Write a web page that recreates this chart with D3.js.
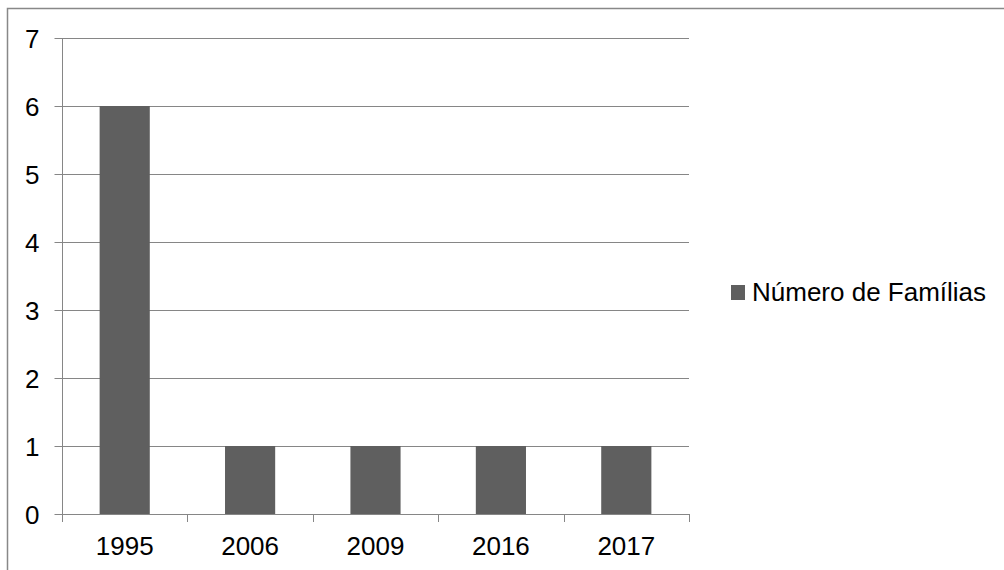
<!DOCTYPE html>
<html><head><meta charset="utf-8">
<script src="https://cdn.jsdelivr.net/npm/d3@7"></script>
<style>body{margin:0;background:#fff}svg{display:block}text{font-family:"Liberation Sans",Arial,sans-serif}</style>
</head><body><svg id="c" width="1004" height="570"></svg>
<script>
const categories = ["1995","2006","2009","2016","2017"];
const values = [6,1,1,1,1];
const yTicks = [0,1,2,3,4,5,6,7];
const seriesName = "Número de Famílias";

(function(){
const svg = d3.select("#c");
const pL = 62, pR = 689, pT = 38, pB = 514;
const fs = 26;
const axisColor = "#868686";
const ff = "'Liberation Sans',Arial,sans-serif";

// outer chart border
svg.append("rect").attr("x",7.5).attr("y",8.5).attr("width",1100).attr("height",700)
  .attr("fill","none").attr("stroke","#888").attr("stroke-width",1.5);

const x = d3.scaleBand().domain(categories).range([pL,pR]).padding(0);
const y = d3.scaleLinear().domain([0,7]).range([pB,pT]);

// gridlines
svg.append("g").selectAll("line").data(yTicks.filter(d=>d>0)).join("line")
  .attr("x1",pL).attr("x2",pR).attr("y1",d=>Math.round(y(d))+0.5).attr("y2",d=>Math.round(y(d))+0.5)
  .attr("stroke",axisColor).attr("stroke-width",1);

// bars
const bw = x.bandwidth()*0.4;
svg.append("g").selectAll("rect").data(values).join("rect")
  .attr("x",(d,i)=>x(categories[i])+x.bandwidth()/2-bw/2)
  .attr("width",bw)
  .attr("y",d=>y(d)).attr("height",d=>y(0)-y(d))
  .attr("fill","#5f5f5f");

// y axis
const ya = svg.append("g").attr("transform",`translate(${pL+0.5},0)`)
  .call(d3.axisLeft(y).tickValues(yTicks).tickSize(8).tickSizeOuter(0).tickFormat(d3.format("d")));
ya.select(".domain").attr("stroke",axisColor).attr("d",`M0,${pT}V${pB+8}`);
ya.selectAll(".tick line").attr("stroke",axisColor);
ya.selectAll(".tick text").attr("fill","#000").style("font-size",fs+"px").attr("x",-23).attr("dy","0.36em").style("font-family",ff);

// x axis
const xa = svg.append("g").attr("transform",`translate(0,${pB+0.5})`)
  .call(d3.axisBottom(x).tickSize(0).tickSizeOuter(0));
xa.select(".domain").attr("stroke",axisColor).attr("d",`M${pL},0H${pR}`);
xa.selectAll(".tick text").attr("fill","#000").style("font-size",fs+"px").attr("y",40).attr("dy","0").style("font-family",ff);
// boundary ticks
const bounds = categories.map(c=>x(c)).concat([pR]);
svg.append("g").selectAll("line").data(bounds).join("line")
  .attr("x1",d=>Math.round(d)+0.5).attr("x2",d=>Math.round(d)+0.5)
  .attr("y1",pB).attr("y2",pB+8).attr("stroke",axisColor);

// legend
const lg = svg.append("g").attr("transform","translate(731,285)");
lg.append("rect").attr("width",14).attr("height",15).attr("fill","#5f5f5f");
lg.append("text").attr("x",21).attr("y",16).style("font-size",fs+"px").style("font-family",ff).attr("fill","#000").text(seriesName);
})();
</script></body></html>
